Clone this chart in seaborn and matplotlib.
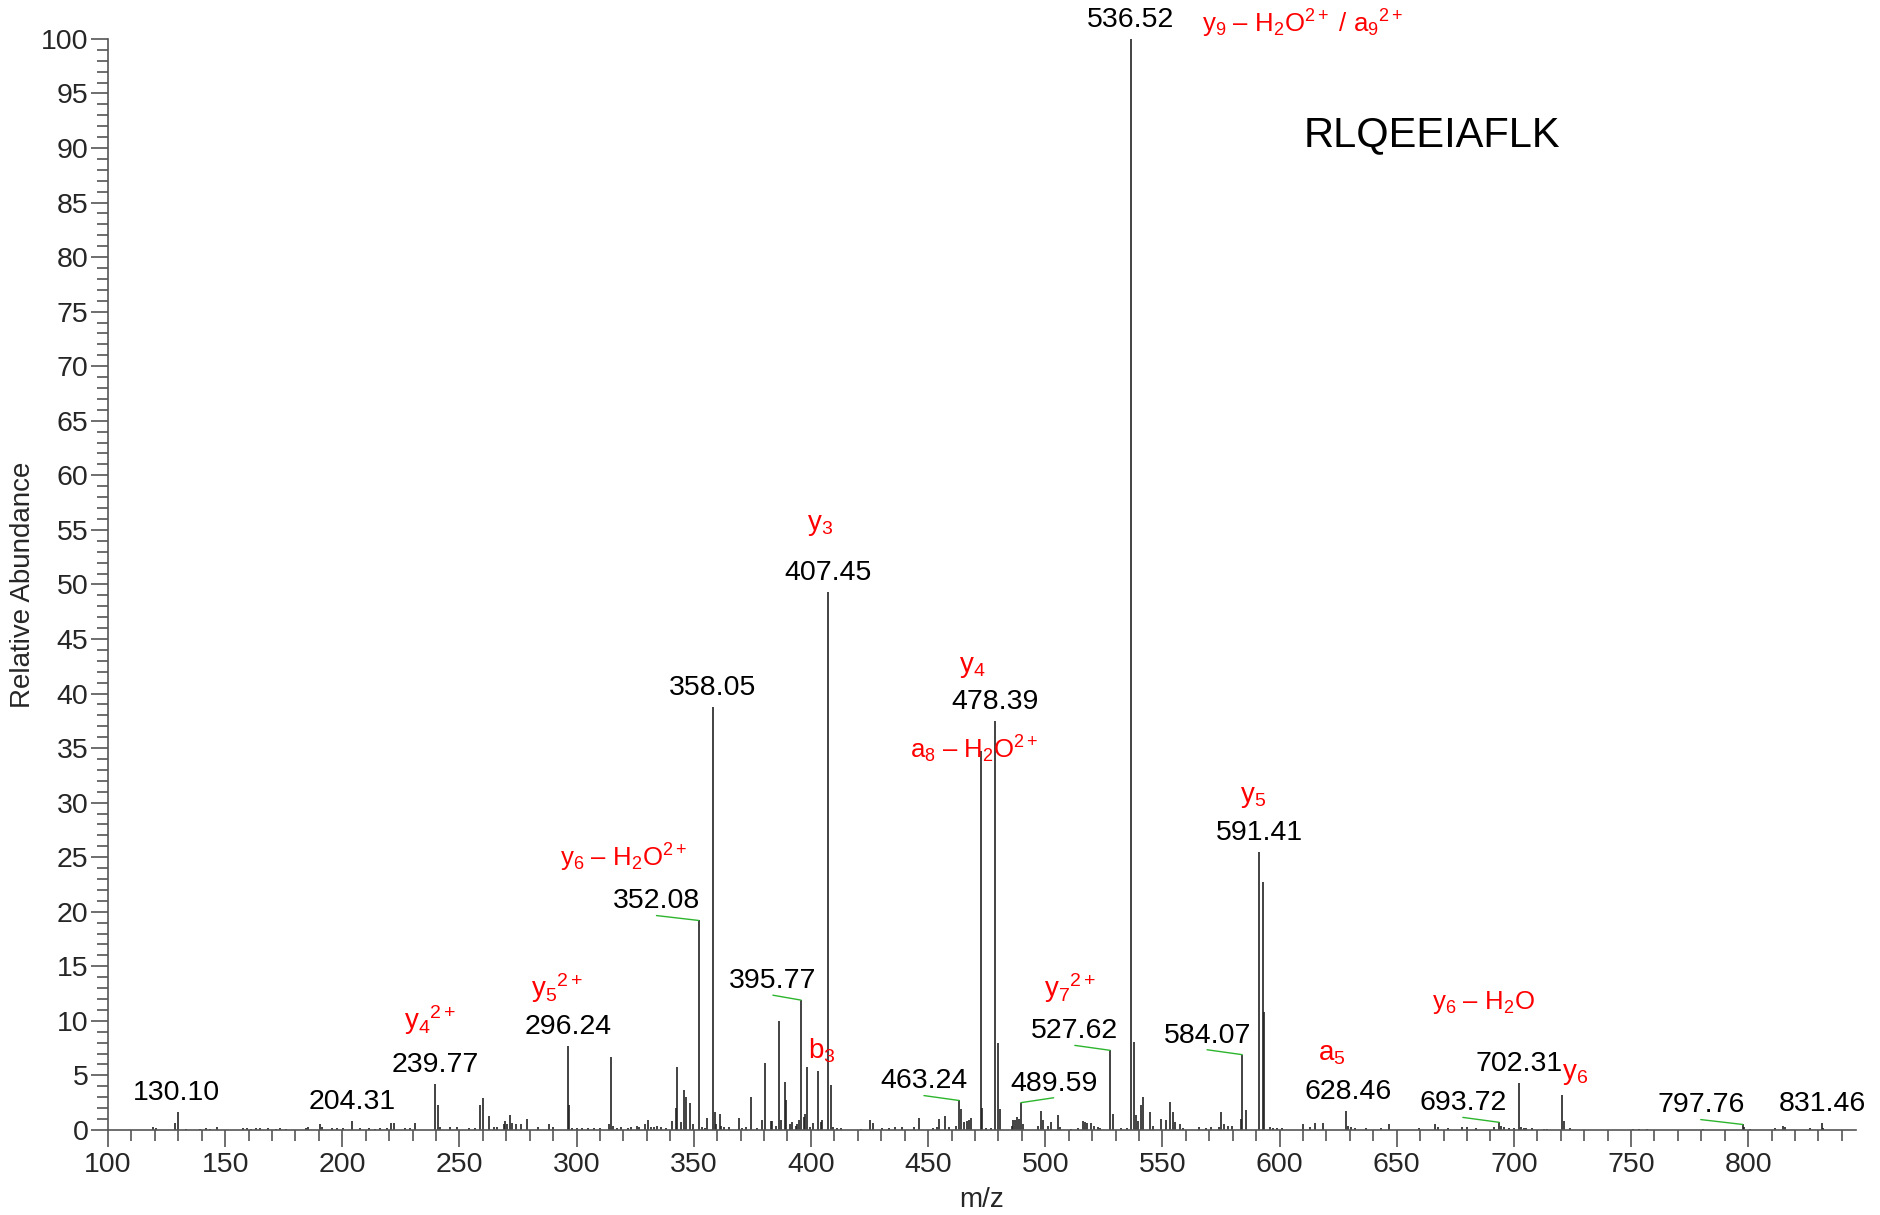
import numpy as np
import pandas as pd
import matplotlib
matplotlib.use("Agg")
import matplotlib.pyplot as plt
from matplotlib.ticker import MultipleLocator
import seaborn as sns

# espectro MS/MS do peptideo RLQEEIAFLK
mz = [119.4, 120.5, 128.6, 130.1, 133.4, 139.3, 141.9, 143.6, 146.7, 157.8,
      159.5, 161.0, 163.2, 165.0, 168.1, 171.5, 173.4, 176.0, 184.6, 185.3,
      190.6, 191.4, 195.6, 197.7, 200.3, 204.31, 207.4, 211.2, 213.8, 216.1,
      219.0, 220.9, 222.2, 226.9, 229.0, 231.1, 239.77, 240.8, 241.5, 246.0,
      248.9, 253.9, 256.7, 258.6, 260.0, 262.4, 264.6, 266.0, 268.9, 269.6,
      270.3, 271.4, 272.4, 274.0, 276.1, 278.8, 283.5, 288.1, 289.8, 296.24,
      296.9, 298.0, 300.0, 302.5, 305.0, 307.4, 310.0, 313.9, 314.7, 315.6,
      317.2, 319.0, 322.1, 323.2, 325.6, 326.6, 329.0, 330.3, 331.9, 333.0,
      334.5, 336.0, 338.0, 340.8, 342.4, 342.9, 344.6, 346.0, 346.8, 348.3,
      349.7, 352.08, 353.6, 355.0, 355.7, 358.05, 358.9, 359.6, 361.2, 361.8,
      363.0, 365.0, 369.4, 370.7, 372.1, 374.4, 376.8, 379.1, 380.4, 382.8,
      383.5, 384.9, 386.5, 387.1, 388.8, 389.4, 390.9, 392.1, 393.5, 394.2,
      395.0, 395.77, 396.9, 397.6, 398.3, 399.7, 401.0, 403.2, 404.1, 404.9,
      407.45, 408.6, 409.4, 411.0, 413.0, 421.2, 425.2, 426.6, 430.5, 433.5,
      436.0, 439.0, 444.0, 446.1, 452.0, 454.0, 454.7, 457.4, 459.0, 461.8,
      463.24, 464.1, 465.5, 466.5, 467.6, 468.3, 472.6, 473.2, 474.7, 476.8,
      478.39, 479.9, 480.6, 485.6, 486.3, 487.2, 488.1, 488.7, 489.59, 490.3,
      497.0, 498.1, 499.1, 501.2, 502.6, 505.4, 506.1, 511.0, 514.0, 516.2,
      517.0, 518.0, 519.6, 521.0, 522.4, 523.5, 527.62, 529.0, 532.3, 535.1,
      536.52, 538.0, 538.7, 539.6, 541.0, 541.6, 544.7, 546.1, 549.5, 551.7,
      553.3, 554.5, 555.5, 557.3, 559.0, 565.7, 568.5, 570.7, 574.0, 575.1,
      576.3, 578.0, 579.6, 583.4, 584.07, 585.7, 591.41, 592.8, 593.5, 596.0,
      597.0, 599.0, 601.0, 610.0, 612.8, 615.0, 618.7, 628.46, 629.2, 630.7,
      632.0, 637.0, 643.5, 646.5, 659.3, 666.4, 667.6, 671.8, 677.8, 679.8,
      683.7, 691.7, 693.72, 694.5, 695.7, 697.8, 700.0, 702.31, 703.2, 704.2,
      705.0, 707.7, 712.8, 714.2, 720.4, 721.4, 724.0, 751.0, 753.5, 756.8,
      780.5, 797.76, 798.4, 800.7, 811.5, 815.0, 815.7, 826.4, 831.46, 832.1]
intensidade = [0.3, 0.2, 0.6, 1.6, 0.1, 0.1, 0.2, 0.1, 0.3, 0.2,
               0.2, 0.1, 0.2, 0.2, 0.2, 0.1, 0.2, 0.1, 0.2, 0.3,
               0.5, 0.3, 0.2, 0.2, 0.2, 0.8, 0.2, 0.2, 0.1, 0.2,
               0.2, 0.6, 0.6, 0.2, 0.2, 0.6, 4.2, 2.3, 0.3, 0.3,
               0.3, 0.2, 0.2, 2.3, 2.9, 1.3, 0.3, 0.3, 0.5, 0.8,
               0.5, 1.4, 0.6, 0.5, 0.5, 1.0, 0.3, 0.5, 0.3, 7.7,
               2.3, 0.2, 0.2, 0.2, 0.2, 0.2, 0.2, 0.5, 6.7, 0.4,
               0.2, 0.3, 0.2, 0.3, 0.4, 0.3, 0.5, 0.9, 0.3, 0.3,
               0.4, 0.3, 0.2, 0.8, 2.0, 5.8, 0.7, 3.7, 3.0, 2.5,
               0.5, 19.2, 0.3, 0.2, 1.1, 38.8, 1.6, 0.5, 1.5, 0.4,
               0.3, 0.3, 1.1, 0.2, 0.3, 3.0, 0.2, 0.9, 6.1, 0.8,
               0.8, 0.4, 10.0, 0.9, 4.4, 2.7, 0.5, 0.7, 0.4, 0.5,
               0.9, 11.9, 1.2, 1.5, 5.8, 0.3, 0.6, 5.4, 0.7, 0.9,
               49.3, 4.1, 0.3, 0.2, 0.2, 0.1, 0.9, 0.6, 0.2, 0.2,
               0.3, 0.3, 0.3, 1.1, 0.2, 0.3, 1.0, 1.3, 0.3, 0.4,
               2.7, 1.9, 0.7, 0.8, 0.9, 1.1, 34.7, 2.0, 0.15, 0.15,
               37.5, 8.0, 1.9, 0.4, 0.9, 0.9, 1.2, 1.0, 2.5, 0.5,
               0.4, 1.7, 0.9, 0.4, 0.7, 1.4, 0.3, 0.1, 0.2, 0.8,
               0.7, 0.6, 0.6, 0.4, 0.3, 0.2, 7.3, 1.5, 0.2, 0.2,
               100.0, 8.1, 1.4, 0.8, 2.3, 3.0, 1.6, 0.4, 1.0, 0.9,
               2.6, 1.6, 0.7, 0.5, 0.2, 0.3, 0.2, 0.3, 0.3, 1.6,
               0.5, 0.4, 0.4, 1.0, 6.9, 1.8, 25.5, 22.7, 10.8, 0.3,
               0.2, 0.2, 0.2, 0.5, 0.3, 0.6, 0.6, 1.7, 0.4, 0.3,
               0.2, 0.2, 0.2, 0.5, 0.2, 0.5, 0.3, 0.2, 0.3, 0.3,
               0.2, 0.3, 0.7, 0.4, 0.3, 0.2, 0.2, 4.3, 0.3, 0.2,
               0.2, 0.15, 0.1, 0.1, 3.2, 0.8, 0.2, 0.1, 0.1, 0.1,
               0.1, 0.5, 0.3, 0.1, 0.2, 0.4, 0.3, 0.2, 0.6, 0.2]

# picos com rotulo numerico e deslocamento do rotulo (linha verde quando != 0)
rotulos_mz = [130.1, 204.31, 239.77, 296.24, 352.08, 358.05, 395.77, 407.45,
              463.24, 478.39, 489.59, 527.62, 536.52, 584.07, 591.41, 628.46,
              693.72, 702.31, 797.76, 831.46]
rotulos_txt = ["130.10", "204.31", "239.77", "296.24", "352.08", "358.05",
               "395.77", "407.45", "463.24", "478.39", "489.59", "527.62",
               "536.52", "584.07", "591.41", "628.46", "693.72", "702.31",
               "797.76", "831.46"]
rotulos_dx = [-1, 0, 0, 0, -18, 0, -12, 0, -15, 0, 14, -15, 0, -15, 0, 1,
              -15.5, 0, -18, 0]

# anotacoes dos ions (vermelho)
ions_txt = [r"y$_9$ – H$_2$O$^{2+}$ / a$_9{}^{2+}$", r"y$_3$", r"y$_4$",
            r"a$_8$ – H$_2$O$^{2+}$", r"y$_5$", r"y$_6$ – H$_2$O$^{2+}$",
            r"y$_5{}^{2+}$", r"y$_7{}^{2+}$", r"y$_4{}^{2+}$", r"b$_3$",
            r"y$_6$ – H$_2$O", r"a$_5$", r"y$_6$"]
ions_x = [610.0, 404.0, 469.0, 469.6, 588.5, 320.0, 291.7, 510.6, 237.4,
          404.5, 686.9, 622.3, 726.0]
ions_y = [101.4, 55.4, 42.4, 34.9, 30.5, 24.9, 13.0, 13.0, 10.1, 7.3, 11.7,
          7.0, 5.1]

df = pd.DataFrame({"mz": mz, "int": intensidade})
altura = dict(zip(df["mz"], df["int"]))

sns.set_style("ticks")
plt.rcParams["font.family"] = ["Liberation Sans", "DejaVu Sans"]
plt.rcParams["mathtext.fontset"] = "custom"
plt.rcParams["mathtext.rm"] = "Liberation Sans"
plt.rcParams["mathtext.it"] = "Liberation Sans"
plt.rcParams["mathtext.bf"] = "Liberation Sans:bold"

fig = plt.figure(figsize=(18.81, 12.15), dpi=100)
ax = fig.add_axes([0.0574, 0.07, 0.9293, 0.898])

ax.vlines(df["mz"], 0, df["int"], color="#222222", linewidth=1.2)

for m, t, dx in zip(rotulos_mz, rotulos_txt, rotulos_dx):
    h = altura[m]
    ax.text(m + dx, h + 0.55, t, ha="center", va="bottom", fontsize=20.5,
            color="black")
    if abs(dx) > 5:
        ax.plot([m + dx, m], [h + 0.45, h], color="#2db52d", linewidth=1.0)

for t, x, y in zip(ions_txt, ions_x, ions_y):
    tam = 18.5 if "–" in t else 20
    ax.text(x, y, t, ha="center", va="center", fontsize=tam, color="red")

ax.text(665, 91.2, "RLQEEIAFLK", ha="center", va="center", fontsize=30,
        color="black")

ax.set_xlim(100, 846)
ax.set_ylim(0, 100)
ax.xaxis.set_major_locator(MultipleLocator(50))
ax.xaxis.set_minor_locator(MultipleLocator(10))
ax.yaxis.set_major_locator(MultipleLocator(5))
ax.yaxis.set_minor_locator(MultipleLocator(1))
ax.tick_params(which="major", length=12, width=1.2, color="#555555",
               labelsize=20.5, pad=2)
ax.tick_params(which="minor", length=8, width=1.2, color="#555555")
ax.tick_params(axis="x", which="major", pad=4)

sns.despine(ax=ax)
for s in ["left", "bottom"]:
    ax.spines[s].set_color("#555555")
    ax.spines[s].set_linewidth(1.2)

ax.set_xlabel("m/z", fontsize=20)
ax.set_ylabel("Relative Abundance", fontsize=20)
ax.xaxis.set_label_coords(0.4995, -0.052)
ax.yaxis.set_label_coords(-0.041, 0.5)

fig.savefig("out.png", dpi=100)
